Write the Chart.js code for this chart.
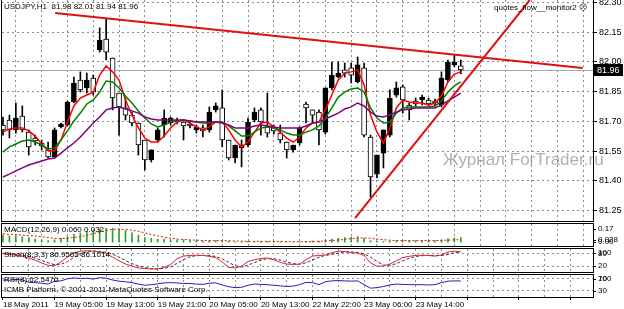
<!DOCTYPE html>
<html>
<head>
<meta charset="utf-8">
<script src="https://cdn.jsdelivr.net/npm/chart.js@4.4.0/dist/chart.umd.min.js"></script>
<style>
  html, body { margin: 0; padding: 0; background: #fff; }
  #wrap { position: relative; width: 624px; height: 309px; overflow: hidden; background: #fff; }
  #wrap canvas { position: absolute; left: 0; }
</style>
</head>
<body>
<div id="wrap">
  <canvas id="main" width="624" height="222" style="top:0px"></canvas>
  <canvas id="macd" width="624" height="25" style="top:222px"></canvas>
  <canvas id="stoch" width="624" height="26" style="top:247px"></canvas>
  <canvas id="rsi" width="624" height="36" style="top:273px"></canvas>
</div>
<script>
// USDJPY H1, bars 18 May 21:00 .. 23 May 21:00 (index 0..71)
const opens = [81.682, 81.707, 81.657, 81.727, 81.646, 81.616, 81.591, 81.556, 81.520, 81.672,
  81.682, 81.798, 81.909, 81.869, 81.919, 82.061, 82.116, 82.020, 81.843, 81.768,
  81.732, 81.692, 81.606, 81.505, 81.606, 81.682, 81.692, 81.707, 81.697, 81.687,
  81.657, 81.667, 81.657, 81.758, 81.768, 81.606, 81.515, 81.566, 81.581, 81.707,
  81.758, 81.672, 81.667, 81.641, 81.596, 81.556, 81.591, 81.788, 81.758, 81.747,
  81.646, 81.869, 81.924, 81.960, 81.970, 81.899, 81.970, 81.621, 81.434, 81.540,
  81.631, 81.833, 81.874, 81.783, 81.803, 81.808, 81.808, 81.803, 81.783, 81.909,
  81.985, 81.98];
const highs = [81.722, 81.732, 81.793, 81.778, 81.657, 81.631, 81.606, 81.596, 81.667, 81.692,
  81.803, 81.924, 81.950, 81.944, 81.934, 82.172, 82.222, 82.020, 81.843, 81.818,
  81.747, 81.692, 81.606, 81.556, 81.667, 81.758, 81.722, 81.717, 81.697, 81.697,
  81.682, 81.682, 81.773, 81.793, 81.859, 81.606, 81.581, 81.606, 81.717, 81.768,
  81.768, 81.843, 81.682, 81.682, 81.596, 81.581, 81.672, 81.798, 81.758, 81.758,
  81.869, 82.000, 82.000, 81.995, 81.995, 82.025, 81.995, 81.631, 81.530, 81.657,
  81.859, 81.899, 81.884, 81.793, 81.818, 81.833, 81.818, 81.813, 81.950, 82.010,
  82.035, 82.01];
const lows = [81.631, 81.616, 81.641, 81.646, 81.530, 81.581, 81.556, 81.515, 81.515, 81.667,
  81.677, 81.793, 81.848, 81.843, 81.833, 82.050, 82.010, 81.758, 81.631, 81.707,
  81.677, 81.530, 81.455, 81.495, 81.596, 81.621, 81.682, 81.687, 81.606, 81.667,
  81.641, 81.621, 81.646, 81.747, 81.571, 81.505, 81.490, 81.470, 81.571, 81.697,
  81.631, 81.621, 81.636, 81.591, 81.515, 81.545, 81.581, 81.692, 81.692, 81.581,
  81.636, 81.859, 81.919, 81.924, 81.894, 81.894, 81.621, 81.318, 81.414, 81.465,
  81.621, 81.823, 81.742, 81.707, 81.778, 81.783, 81.778, 81.778, 81.773, 81.899,
  81.975, 81.94];
const closes = [81.657, 81.657, 81.717, 81.657, 81.571, 81.601, 81.576, 81.520, 81.657, 81.687,
  81.798, 81.894, 81.859, 81.909, 81.848, 82.111, 82.050, 81.818, 81.773, 81.732,
  81.692, 81.581, 81.505, 81.556, 81.657, 81.717, 81.717, 81.697, 81.677, 81.677,
  81.672, 81.652, 81.747, 81.778, 81.606, 81.515, 81.581, 81.581, 81.697, 81.747,
  81.697, 81.641, 81.652, 81.606, 81.556, 81.581, 81.667, 81.768, 81.732, 81.657,
  81.869, 81.934, 81.944, 81.944, 81.934, 81.985, 81.631, 81.419, 81.530, 81.657,
  81.818, 81.869, 81.808, 81.758, 81.788, 81.823, 81.788, 81.793, 81.919, 82.000,
  82.000, 81.96];

// moving averages as seen on the chart
const maRed = [81.646, 81.662, 81.667, 81.667, 81.652, 81.626, 81.586, 81.551, 81.551, 81.606,
  81.697, 81.778, 81.818, 81.833, 81.848, 81.934, 81.980, 81.950, 81.909, 81.808,
  81.732, 81.667, 81.616, 81.596, 81.596, 81.626, 81.667, 81.697, 81.707, 81.692,
  81.672, 81.657, 81.672, 81.697, 81.697, 81.657, 81.606, 81.571, 81.596, 81.646,
  81.692, 81.697, 81.672, 81.646, 81.616, 81.596, 81.621, 81.667, 81.692, 81.697,
  81.758, 81.833, 81.909, 81.944, 81.950, 81.960, 81.884, 81.732, 81.646, 81.591,
  81.667, 81.768, 81.808, 81.798, 81.793, 81.793, 81.783, 81.793, 81.828, 81.899,
  81.939, 81.950];
const maGreen = [81.545, 81.571, 81.586, 81.601, 81.606, 81.596, 81.581, 81.561, 81.566, 81.606,
  81.652, 81.702, 81.742, 81.788, 81.808, 81.848, 81.904, 81.899, 81.869, 81.828,
  81.793, 81.753, 81.717, 81.687, 81.672, 81.682, 81.697, 81.702, 81.707, 81.702,
  81.697, 81.692, 81.692, 81.697, 81.697, 81.677, 81.652, 81.626, 81.626, 81.646,
  81.667, 81.672, 81.667, 81.657, 81.641, 81.631, 81.631, 81.646, 81.657, 81.677,
  81.717, 81.768, 81.823, 81.848, 81.864, 81.869, 81.848, 81.768, 81.717, 81.692,
  81.697, 81.742, 81.768, 81.773, 81.773, 81.773, 81.773, 81.778, 81.803, 81.848,
  81.879, 81.899];
const maPurple = [81.419, 81.434, 81.450, 81.465, 81.480, 81.490, 81.500, 81.510, 81.515, 81.540,
  81.566, 81.591, 81.621, 81.657, 81.692, 81.722, 81.758, 81.768, 81.773, 81.763,
  81.753, 81.742, 81.722, 81.712, 81.707, 81.707, 81.707, 81.707, 81.707, 81.702,
  81.697, 81.697, 81.697, 81.697, 81.692, 81.682, 81.667, 81.667, 81.667, 81.677,
  81.682, 81.677, 81.672, 81.667, 81.667, 81.667, 81.667, 81.677, 81.692, 81.697,
  81.712, 81.727, 81.742, 81.763, 81.773, 81.793, 81.778, 81.747, 81.727, 81.722,
  81.732, 81.747, 81.758, 81.763, 81.768, 81.768, 81.768, 81.768, 81.783, 81.803,
  81.823, 81.843];

// hand drawn trend lines: [bar index, price]
const trendDown = [[8.1, 82.247], [89.9, 81.970]];
const trendUp = [[54.6, 81.212], [81.7, 82.313]];
const bidPrice = 81.96;

// MACD(12,26,9)
const macdMain = [0.09, 0.08, 0.08, 0.07, 0.06, 0.04, 0.03, 0.02, 0.03, 0.05,
  0.07, 0.10, 0.12, 0.14, 0.15, 0.17, 0.18, 0.18, 0.17, 0.15,
  0.12, 0.09, 0.06, 0.05, 0.04, 0.04, 0.03, 0.03, 0.03, 0.02,
  0.02, 0.015, 0.02, 0.02, 0.015, 0.01, 0.005, 0.005, 0.01, 0.01,
  0.01, 0.01, 0.01, 0.005, 0.002, 0.002, 0.005, 0.01, 0.015, 0.015,
  0.03, 0.04, 0.05, 0.06, 0.065, 0.07, 0.05, 0.02, 0.01, 0.01,
  0.015, 0.02, 0.02, 0.02, 0.02, 0.02, 0.02, 0.02, 0.03, 0.045,
  0.055, 0.060];
const macdSignal = [0.11, 0.10, 0.10, 0.09, 0.085, 0.08, 0.07, 0.06, 0.05, 0.045,
  0.05, 0.06, 0.07, 0.09, 0.11, 0.13, 0.15, 0.165, 0.17, 0.165,
  0.155, 0.14, 0.12, 0.10, 0.08, 0.065, 0.05, 0.04, 0.035, 0.03,
  0.025, 0.022, 0.02, 0.02, 0.02, 0.018, 0.015, 0.012, 0.01, 0.01,
  0.01, 0.01, 0.01, 0.01, 0.008, 0.006, 0.005, 0.006, 0.008, 0.01,
  0.015, 0.02, 0.028, 0.035, 0.045, 0.052, 0.055, 0.05, 0.04, 0.032,
  0.025, 0.02, 0.02, 0.02, 0.02, 0.02, 0.02, 0.02, 0.022, 0.026,
  0.029, 0.032];

// Stoch(8,3,3)
const stochMain = [78, 75, 72, 66, 58, 48, 35, 24, 22, 40,
  62, 82, 90, 92, 90, 86, 80, 62, 45, 30,
  20, 12, 9, 7, 7, 15, 28, 55, 67, 70,
  71, 70, 66, 60, 40, 15, 12, 20, 42, 50,
  56, 58, 50, 38, 30, 28, 30, 50, 67, 70,
  72, 82, 90, 88, 82, 81, 70, 35, 20, 21,
  30, 45, 60, 66, 70, 71, 70, 67, 72, 86,
  90, 86.9565];
const stochSignal = [80, 78, 75, 71, 65, 57, 47, 36, 27, 29,
  41, 61, 78, 88, 91, 89, 85, 76, 62, 46,
  32, 21, 14, 9, 8, 10, 17, 33, 50, 64,
  69, 70, 69, 65, 55, 38, 22, 16, 25, 37,
  49, 55, 55, 49, 39, 32, 29, 36, 49, 62,
  70, 75, 81, 87, 87, 84, 78, 62, 42, 25,
  24, 32, 45, 57, 65, 69, 70, 69, 70, 75,
  83, 86.1014];

// RSI(8)
const rsiValues = [66, 65, 68, 66, 58, 57, 55, 52, 62, 63,
  70, 73, 71, 72, 69, 74, 72, 66, 62, 60,
  57, 52, 48, 50, 53, 56, 57, 56, 54, 54,
  52, 51, 55, 56, 49, 43, 40, 41, 48, 52,
  51, 50, 48, 46, 44, 45, 50, 58, 57, 50,
  60, 63, 64, 63, 62, 63, 50, 38, 40, 44,
  49, 52, 51, 50, 50, 50, 49, 50, 57, 62,
  63, 62.5476];

const dateLabels = ['18 May 2011', '19 May 05:00', '19 May 13:00', '19 May 21:00', '20 May 05:00',
  '20 May 13:00', '22 May 22:00', '23 May 06:00', '23 May 14:00'];
const gridBars = [0, 4, 8, 12, 16, 20, 24, 28, 32, 36, 40, 44, 48, 52, 56, 60, 64, 68, 72, 76, 80, 84, 88];
const priceTicks = [81.25, 81.40, 81.55, 81.70, 81.85, 82.00, 82.15, 82.30];

const FONT = 'Liberation Sans, Arial, sans-serif';
Chart.defaults.font.family = FONT;
Chart.defaults.font.size = 8;
Chart.defaults.color = '#000';
Chart.defaults.animation = false;

const xMin = -0.15, xMax = 91.5;
const gridColor = '#8c8c8c';

function xAxis(showLabels) {
  return {
    type: 'linear', min: xMin, max: xMax, offset: false,
    afterBuildTicks: s => { s.ticks = gridBars.map(v => ({ value: v })); },
    afterFit: s => {
      s.height = showLabels ? 12 : 0;
      s.paddingLeft = 0; s.paddingRight = 0;
    },
    grid: {
      color: c => (c.tick && c.tick.value === 0) ? 'rgba(0,0,0,0)' : gridColor,
      lineWidth: 1,
      drawTicks: showLabels, tickLength: 3,
      tickColor: c => (c.tick && c.tick.value % 8 === 0) ? '#000' : 'rgba(0,0,0,0)'
    },
    border: { display: false, dash: [2, 3] },
    ticks: {
      display: showLabels, autoSkip: false, maxRotation: 0, minRotation: 0,
      align: 'start', padding: 0, font: { size: 8 },
      callback: v => (v % 8 === 0 && dateLabels[v / 8]) ? dateLabels[v / 8] : ''
    }
  };
}

function yAxis(min, max, ticks, showLabels) {
  return {
    position: 'right', min: min, max: max,
    afterBuildTicks: s => { s.ticks = ticks.map(v => ({ value: v })); },
    afterFit: s => {
      s.width = 31;
      s.paddingTop = 0; s.paddingBottom = 0;
    },
    grid: { color: gridColor, drawTicks: showLabels, tickLength: 4, tickColor: '#000' },
    border: { display: false, dash: [2, 3] },
    ticks: { display: showLabels, padding: 2, font: { size: 9 }, callback: v => v.toFixed(2) }
  };
}

// frame around each panel
const framePlugin = {
  id: 'frame',
  afterDraw(chart) {
    const { ctx, chartArea: a } = chart;
    ctx.save();
    ctx.strokeStyle = '#000';
    ctx.lineWidth = 1;
    ctx.strokeRect(a.left - 0.5, a.top - 0.5, a.right - a.left + 1, a.bottom - a.top + 1);
    ctx.restore();
  }
};

function textPlugin(items, sideLabels) {
  return {
    id: 'texts',
    afterDraw(chart) {
      const { ctx, chartArea: a } = chart;
      const ys = chart.scales.y;
      ctx.save();
      ctx.textBaseline = 'middle';
      items.forEach(t => {
        ctx.font = (t.size || 8) + 'px ' + FONT;
        ctx.fillStyle = t.color || '#000';
        ctx.textAlign = t.align || 'left';
        ctx.fillText(t.text, t.x, a.top + t.dy);
      });
      ctx.font = '8px ' + FONT;
      ctx.fillStyle = '#000';
      ctx.textAlign = 'left';
      (sideLabels || []).forEach(s => {
        let y = ys.getPixelForValue(s.v);
        y = Math.max(a.top + 4, Math.min(a.bottom - 3, y));
        ctx.fillText(s.t, a.right + 5, y);
        ctx.fillRect(a.right, Math.round(y), 3, 1);
      });
      ctx.restore();
    }
  };
}

// bid line + price box on the main panel
const bidPlugin = {
  id: 'bid',
  beforeDatasetsDraw(chart) {
    const { ctx, chartArea: a } = chart;
    const y = Math.round(chart.scales.y.getPixelForValue(bidPrice)) + 0.5;
    ctx.save();
    ctx.strokeStyle = '#a8a8a8';
    ctx.lineWidth = 1;
    ctx.beginPath(); ctx.moveTo(a.left, y); ctx.lineTo(a.right, y); ctx.stroke();
    ctx.restore();
  },
  afterDraw(chart) {
    const { ctx, chartArea: a } = chart;
    const y = Math.round(chart.scales.y.getPixelForValue(bidPrice));
    ctx.save();
    ctx.fillStyle = '#000';
    ctx.fillRect(a.right + 1, y - 6, 29, 12);
    ctx.fillStyle = '#fff';
    ctx.font = '9px ' + FONT;
    ctx.textBaseline = 'middle';
    ctx.fillText(bidPrice.toFixed(2), a.right + 4, y + 0.5);
    // watermark
    ctx.fillStyle = 'rgba(150,150,150,0.75)';
    ctx.font = '17px ' + FONT;
    ctx.fillText('Журнал ForTrader.ru', 443, 160);
    ctx.restore();
  }
};

const idx = closes.map((c, i) => i);
const pts = arr => arr.map((v, i) => ({ x: i, y: v }));
const bull = i => closes[i] > opens[i];

new Chart(document.getElementById('main'), {
  type: 'bar',
  data: {
    datasets: [
      { type: 'line', data: trendDown.map(p => ({ x: p[0], y: p[1] })), borderColor: '#e01010', borderWidth: 2, pointRadius: 0, order: 0 },
      { type: 'line', data: trendUp.map(p => ({ x: p[0], y: p[1] })), borderColor: '#e01010', borderWidth: 2, pointRadius: 0, order: 0 },
      { type: 'line', data: pts(maPurple), borderColor: '#800080', borderWidth: 1.5, pointRadius: 0, order: 1 },
      { type: 'line', data: pts(maGreen), borderColor: '#008000', borderWidth: 1.5, pointRadius: 0, order: 1 },
      { type: 'line', data: pts(maRed), borderColor: '#ff0000', borderWidth: 1.5, pointRadius: 0, order: 1 },
      { data: idx.map(i => ({ x: i, y: [opens[i], closes[i]] })), grouped: false, barThickness: 5,
        backgroundColor: c => bull(c.dataIndex) ? '#000' : '#fff', borderColor: '#000', borderWidth: 1, borderSkipped: false, order: 2 },
      { data: idx.map(i => ({ x: i, y: [lows[i], highs[i]] })), grouped: false, barThickness: 1,
        backgroundColor: '#000', borderWidth: 0, order: 3 }
    ]
  },
  options: {
    responsive: false,
    layout: { padding: { left: 2, top: 0, right: 0, bottom: 1 } },
    plugins: { legend: { display: false }, tooltip: { enabled: false } },
    scales: {
      x: xAxis(false),
      y: yAxis(81.197, 82.313, priceTicks, true)
    }
  },
  plugins: [bidPlugin, framePlugin, textPlugin([
    { text: 'USDJPY,H1  81.98 82.01 81.94 81.96', x: 4, dy: 7 },
    { text: 'quotes_flow__monitor2 \u2639', x: 587, dy: 8, align: 'right' }
  ])]
});

new Chart(document.getElementById('macd'), {
  type: 'bar',
  data: {
    datasets: [
      { type: 'line', data: pts(macdSignal), borderColor: '#e01010', borderWidth: 1, borderDash: [2, 2], pointRadius: 0, order: 0 },
      { data: pts(macdMain), grouped: false, barThickness: 1, backgroundColor: '#2ca02c', borderWidth: 0, order: 1 }
    ]
  },
  options: {
    responsive: false,
    layout: { padding: { left: 2, top: 2, right: 0, bottom: 1 } },
    plugins: { legend: { display: false }, tooltip: { enabled: false } },
    scales: { x: xAxis(false), y: yAxis(-0.05, 0.235, [], false) }
  },
  plugins: [framePlugin, textPlugin([{ text: 'MACD(12,26,9) 0.060 0.032', x: 4, dy: 6 }],
    [{ v: 0.17, t: '0.17' }, { v: 0.028, t: '0.028' }, { v: 0, t: '0.00' }])]
});

new Chart(document.getElementById('stoch'), {
  type: 'line',
  data: {
    datasets: [
      { data: pts(stochMain), borderColor: '#e02020', borderWidth: 1, pointRadius: 0 },
      { data: pts(stochSignal), borderColor: '#303060', borderWidth: 1, borderDash: [3, 2], pointRadius: 0 }
    ]
  },
  options: {
    responsive: false,
    layout: { padding: { left: 2, top: 2, right: 0, bottom: 1 } },
    plugins: { legend: { display: false }, tooltip: { enabled: false } },
    scales: { x: xAxis(false), y: yAxis(-7, 100, [20, 80], false) }
  },
  plugins: [framePlugin, textPlugin([{ text: 'Stoch(8,3,3) 86.9565 86.1014', x: 4, dy: 6 }],
    [{ v: 100, t: '100' }, { v: 80, t: '80' }, { v: 20, t: '20' }])]
});

new Chart(document.getElementById('rsi'), {
  type: 'line',
  data: {
    datasets: [
      { data: pts(rsiValues), borderColor: '#2020c0', borderWidth: 1, pointRadius: 0 }
    ]
  },
  options: {
    responsive: false,
    layout: { padding: { left: 2, top: 2, right: 0, bottom: 0 } },
    plugins: { legend: { display: false }, tooltip: { enabled: false } },
    scales: { x: xAxis(true), y: yAxis(8, 83, [30, 70], false) }
  },
  plugins: [framePlugin, textPlugin([
    { text: 'RSI(8) 62.5476', x: 4, dy: 5 },
    { text: 'ICMB Platform, \u00A9 2001-2011 MetaQuotes Software Corp.', x: 4, dy: 15 }
  ], [{ v: 100, t: '100' }, { v: 70, t: '70' }, { v: 30, t: '30' }])]
});
</script>
</body>
</html>
